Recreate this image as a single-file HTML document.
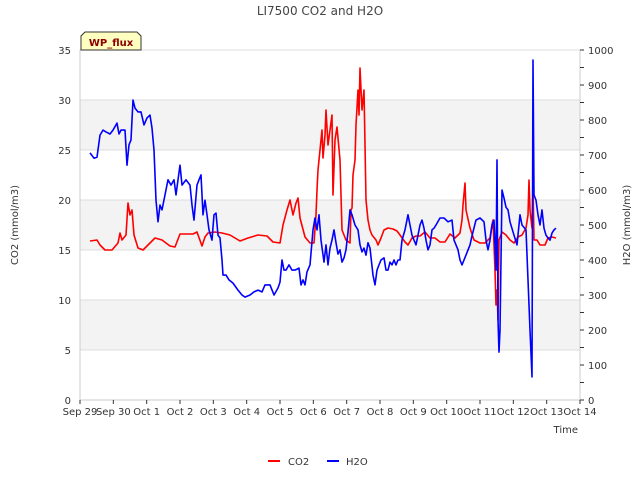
<!DOCTYPE html>
<html><head><meta charset="utf-8"><style>
body{margin:0;background:#fff;}
svg text{font-family:"DejaVu Sans","Liberation Sans",sans-serif;}
</style></head><body>
<svg id="chart" width="640" height="480" xmlns="http://www.w3.org/2000/svg">
<text x="320" y="15" font-size="12" fill="#444" text-anchor="middle">LI7500 CO2 and H2O</text>
<g id="grid"></g>
<g id="series"></g>
<g id="axes"></g>
<g>
<path d="M81,50 L81,36 L85,32 L137,32 L141,36 L141,50 Z" fill="#ffffc0" stroke="#333" stroke-width="1"/>
<text x="111" y="46" font-size="10" font-weight="bold" fill="#8b0000" text-anchor="middle">WP_flux</text>
</g>
<text transform="translate(18,225) rotate(-90)" font-size="10" fill="#333" text-anchor="middle">CO2 (mmol/m3)</text>
<text transform="translate(630,225) rotate(-90)" font-size="10" fill="#333" text-anchor="middle">H2O (mmol/m3)</text>
<text x="578" y="433" font-size="10" fill="#333" text-anchor="end">Time</text>
<g>
<line x1="268" y1="461" x2="280" y2="461" stroke="#f00" stroke-width="2"/>
<text x="288" y="465" font-size="10" fill="#333">CO2</text>
<line x1="327" y1="461" x2="339" y2="461" stroke="#00f" stroke-width="2"/>
<text x="346" y="465" font-size="10" fill="#333">H2O</text>
</g>
</svg>
<script>
const xTickLabels=["Sep 29","Sep 30","Oct 1","Oct 2","Oct 3","Oct 4","Oct 5","Oct 6","Oct 7","Oct 8","Oct 9","Oct 10","Oct 11","Oct 12","Oct 13","Oct 14"];
const leftTicks=[0,5,10,15,20,25,30,35];
const rightTicks=[0,100,200,300,400,500,600,700,800,900,1000];
const co2Days=[0.30,0.51,0.60,0.75,0.96,1.14,1.20,1.26,1.38,1.44,1.50,1.56,1.62,1.74,1.89,2.04,2.25,2.46,2.70,2.85,3.00,3.18,3.39,3.51,3.66,3.75,3.84,4.05,4.26,4.50,4.80,5.04,5.34,5.61,5.79,6.00,6.09,6.21,6.30,6.39,6.48,6.54,6.60,6.75,6.90,7.02,7.08,7.11,7.14,7.20,7.26,7.29,7.35,7.38,7.44,7.50,7.56,7.59,7.65,7.71,7.80,7.86,7.98,8.10,8.13,8.16,8.19,8.25,8.28,8.34,8.37,8.40,8.46,8.52,8.58,8.64,8.70,8.76,8.88,8.94,9.03,9.12,9.24,9.39,9.51,9.60,9.75,9.84,9.96,10.08,10.20,10.35,10.50,10.65,10.80,10.95,11.10,11.25,11.40,11.46,11.49,11.55,11.58,11.70,11.82,12.00,12.15,12.30,12.36,12.39,12.45,12.48,12.51,12.54,12.57,12.66,12.78,12.90,13.02,13.14,13.26,13.38,13.44,13.47,13.50,13.56,13.59,13.62,13.71,13.80,13.95,14.04,14.16,14.28];
const co2Values=[15.9,16,15.5,15,15,15.7,16.7,16,16.5,19.7,18.5,19,16.5,15.2,15,15.5,16.2,16,15.4,15.3,16.6,16.6,16.6,16.8,15.4,16.3,16.7,16.8,16.7,16.5,15.9,16.2,16.5,16.4,15.8,15.7,17.5,19,20,18.5,19.7,20.2,18.2,16.3,15.7,15.7,18.5,21,23,25,27,24.2,26.5,29,25.5,27,28.5,20.5,26,27.3,24,17,16,15.7,19,19.2,22.5,24,27.5,31,28.5,33.2,29,31,20,18,17,16.5,16,15.5,16.2,17,17.2,17.1,16.9,16.5,15.8,15.5,16.2,16.4,16.4,16.8,16.2,16.2,15.8,15.8,16.6,16.2,16.7,18,19.5,21.7,19,17.2,16,15.7,15.7,16.2,17.5,18,13,9.5,11,8,16,16.8,16.5,16,15.7,16.3,16.5,17.2,18.5,22,19,17.2,21.3,16,16,15.5,15.5,16.2,16.3,16.2];
const h2oDays=[0.30,0.42,0.51,0.60,0.69,0.78,0.90,0.99,1.11,1.17,1.23,1.35,1.41,1.47,1.53,1.59,1.65,1.74,1.83,1.92,2.01,2.10,2.16,2.22,2.28,2.34,2.40,2.46,2.55,2.64,2.73,2.82,2.88,2.94,3.00,3.06,3.18,3.30,3.36,3.42,3.51,3.57,3.63,3.69,3.75,3.81,3.87,3.96,4.02,4.08,4.14,4.20,4.26,4.29,4.38,4.47,4.59,4.74,4.86,4.95,5.10,5.22,5.34,5.46,5.55,5.70,5.82,5.94,6.00,6.06,6.12,6.18,6.27,6.36,6.45,6.57,6.63,6.69,6.75,6.81,6.90,6.99,7.05,7.11,7.17,7.23,7.32,7.38,7.44,7.50,7.56,7.62,7.68,7.74,7.80,7.86,7.92,7.98,8.04,8.10,8.16,8.25,8.34,8.40,8.46,8.52,8.58,8.64,8.70,8.79,8.85,8.91,8.97,9.03,9.12,9.18,9.24,9.30,9.36,9.42,9.48,9.54,9.60,9.66,9.75,9.84,9.90,9.96,10.02,10.08,10.14,10.20,10.26,10.32,10.38,10.44,10.50,10.56,10.62,10.68,10.80,10.92,11.04,11.16,11.22,11.28,11.34,11.40,11.46,11.52,11.58,11.70,11.76,11.88,12.00,12.12,12.18,12.24,12.30,12.36,12.42,12.48,12.51,12.54,12.57,12.60,12.66,12.72,12.78,12.84,12.90,13.02,13.11,13.20,13.26,13.38,13.50,13.56,13.59,13.62,13.68,13.74,13.80,13.86,13.92,13.98,14.04,14.10,14.16,14.22,14.28];
const h2oValues=[706,691,694,757,771,766,760,771,791,760,771,771,671,729,743,857,834,823,823,786,806,814,777,714,571,509,557,543,586,629,614,629,586,629,671,614,629,614,557,514,614,629,643,529,571,529,486,457,529,534,471,463,400,357,357,343,334,314,300,294,300,309,314,309,329,329,300,320,337,400,371,371,386,371,371,377,329,343,329,366,386,486,520,486,529,457,394,443,386,434,457,486,449,417,429,394,406,429,480,543,529,500,486,443,423,434,414,449,434,357,329,371,386,400,406,371,371,394,386,400,386,400,400,457,486,529,500,471,457,443,471,500,514,491,457,429,443,486,491,500,520,520,509,514,457,443,429,400,386,400,414,443,469,514,520,509,457,429,457,500,514,371,686,229,137,200,600,577,551,543,509,471,443,529,500,486,200,66,971,586,571,529,500,543,491,471,463,457,477,486,491];

const X0=80,X1=580,Y0=400,Y1=50;
const xs=d=>X0+(X1-X0)*d/15;
const yL=v=>Y0-(Y0-Y1)*v/35;
const yR=v=>Y0-(Y0-Y1)*v/1000;
const NS="http://www.w3.org/2000/svg";
function mk(tag,attrs,parent){const e=document.createElementNS(NS,tag);for(const k in attrs)e.setAttribute(k,attrs[k]);parent.appendChild(e);return e;}
const grid=document.getElementById('grid'),axes=document.getElementById('axes'),series=document.getElementById('series');
const bg=mk('rect',{x:X0,y:Y1,width:X1-X0,height:Y0-Y1,fill:'#fff'},grid);


for(let i=0;i<leftTicks.length-1;i++){
  if(i%2===1){
    const b=mk('rect',{x:X0,y:yL(leftTicks[i+1]),width:X1-X0,height:yL(leftTicks[i])-yL(leftTicks[i+1]),fill:'#f3f3f3'},grid);
    
    
  }
}
leftTicks.forEach(v=>{
  const g=mk('line',{x1:X0,x2:X1,y1:yL(v),y2:yL(v),stroke:'#dcdcdc','stroke-width':1},grid);
  
  
  const t=mk('text',{x:X0-9,y:yL(v)+4,'font-size':10,fill:'#333','text-anchor':'end'},axes);
  t.textContent=v;
  
  
});
mk('line',{x1:X0,x2:X0,y1:Y1,y2:Y0,stroke:'#ccc'},axes);
mk('line',{x1:X0,x2:X1,y1:Y0,y2:Y0,stroke:'#ccc'},axes);
mk('line',{x1:X1,x2:X1,y1:Y1,y2:Y0,stroke:'#ccc'},axes);
for(let v=0;v<=1000;v+=50){mk('line',{x1:X1,x2:X1+4,y1:yR(v),y2:yR(v),stroke:'#333'},axes);}
rightTicks.forEach(v=>{
  const t=mk('text',{x:X1+8,y:yR(v)+4,'font-size':10,fill:'#333'},axes);
  t.textContent=v;
  
  
});
xTickLabels.forEach((lab,i)=>{
  mk('line',{x1:xs(i),x2:xs(i),y1:Y0,y2:Y0+4,stroke:'#333'},axes);
  const t=mk('text',{x:xs(i),y:Y0+15,'font-size':10,fill:'#333','text-anchor':'middle'},axes);
  t.textContent=lab;
  
  
});
function line(days,vals,yf,color,name){
  const d=days.map((t,i)=>(i?'L':'M')+xs(t).toFixed(1)+','+yf(vals[i]).toFixed(1)).join('');
  const p=mk('path',{d:d,fill:'none',stroke:color,'stroke-width':1.6,'stroke-linejoin':'round'},series);
  
  
}
line(co2Days,co2Values,yL,'#f00','co2-line');
line(h2oDays,h2oValues,yR,'#00f','h2o-line');
</script>
</body></html>
